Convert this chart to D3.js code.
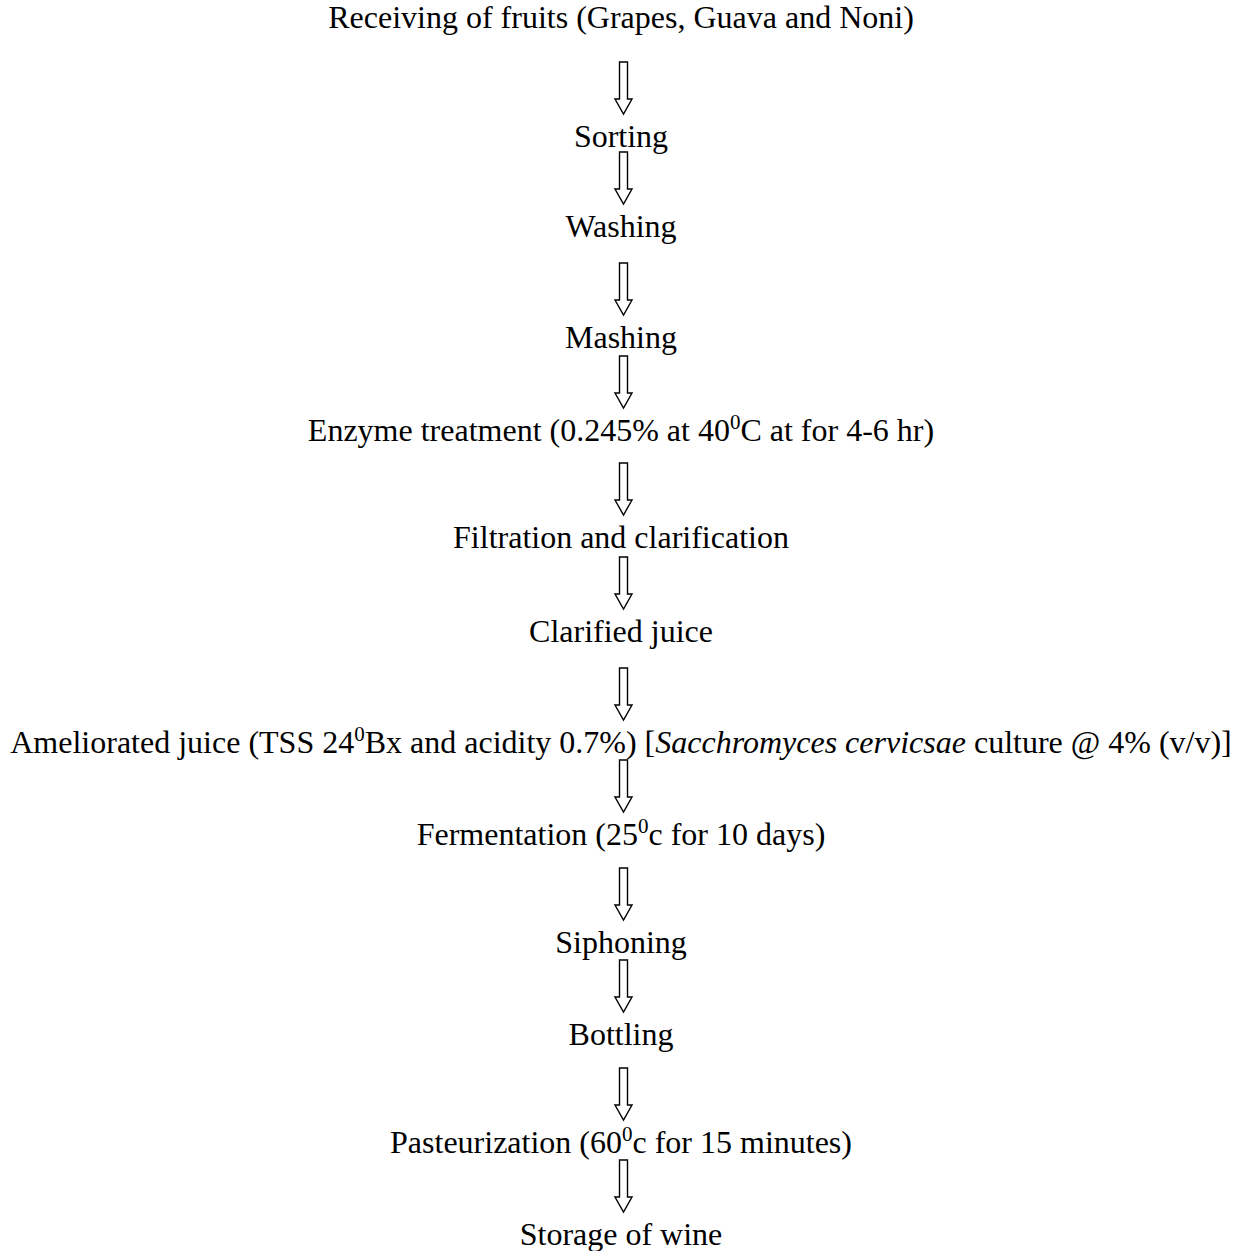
<!DOCTYPE html>
<html>
<head>
<meta charset="utf-8">
<script src="https://cdn.jsdelivr.net/npm/d3@7"></script>
<style>
  html, body { margin: 0; padding: 0; background: #fff; }
  svg { display: block; }
</style>
</head>
<body>
<svg id="chart"></svg>
<script>
// process steps, ^x = superscript x, *text* = italic
var stepLabels = [
    'Receiving of fruits (Grapes, Guava and Noni)',
    'Sorting',
    'Washing',
    'Mashing',
    'Enzyme treatment (0.245% at 40^0C at for 4-6 hr)',
    'Filtration and clarification',
    'Clarified juice',
    'Ameliorated juice (TSS 24^0Bx and acidity 0.7%) [*Sacchromyces cervicsae* culture @ 4% (v/v)]',
    'Fermentation (25^0c for 10 days)',
    'Siphoning',
    'Bottling',
    'Pasteurization (60^0c for 15 minutes)',
    'Storage of wine'
];

// each step flows into the next one
var stepLinks = d3.range(stepLabels.length - 1).map(function(i) {
    return { source: i, target: i + 1 };
});

var WIDTH = 1239, HEIGHT = 1251;
var FONT_SIZE = 32;
var CENTER_X = 621;
var ARROW_X = 623.5;
var ARROW_LEN = 52;
var ARROW_GAP = 33;   // tip sits this far above the next baseline

// baselines follow the uneven blank lines of the original document
var rowY = d3.scaleLinear()
    .domain(d3.range(stepLabels.length))
    .range([28, 147, 237, 348, 441, 548, 642, 753, 845, 953, 1045, 1153, 1245]);

var svg = d3.select('#chart')
    .attr('width', WIDTH)
    .attr('height', HEIGHT)
    .attr('viewBox', '0 0 ' + WIDTH + ' ' + HEIGHT);

function parseLabel(s) {
    // split into plain / italic / superscript pieces
    var parts = [];
    var re = /\*([^*]+)\*|\^(\S)/g, last = 0, m;
    while ((m = re.exec(s)) !== null) {
        if (m.index > last) parts.push({ text: s.slice(last, m.index), kind: 'plain' });
        if (m[1]) parts.push({ text: m[1], kind: 'italic' });
        else parts.push({ text: m[2], kind: 'sup' });
        last = re.lastIndex;
    }
    if (last < s.length) parts.push({ text: s.slice(last), kind: 'plain' });
    return parts;
}

var labels = svg.append('g')
    .selectAll('text')
    .data(stepLabels)
    .enter()
    .append('text')
    .attr('x', CENTER_X)
    .attr('y', function(d, i) { return rowY(i); })
    .attr('text-anchor', 'middle')
    .style('font-family', '"Liberation Serif", "Times New Roman", serif')
    .style('font-size', FONT_SIZE + 'px')
    .style('fill', '#000');

var SUP_SIZE = 21, SUP_RISE = 12;

labels.each(function(d) {
    var el = d3.select(this);
    var raised = false;
    parseLabel(d).forEach(function(p) {
        var t = el.append('tspan').text(p.text);
        if (p.kind === 'sup') {
            t.attr('dy', -SUP_RISE).style('font-size', SUP_SIZE + 'px');
            raised = true;
        } else {
            if (raised) { t.attr('dy', SUP_RISE); raised = false; }
            if (p.kind === 'italic') t.style('font-style', 'italic');
        }
    });
});

// hollow block arrow pointing down, tip at (0,0)
function arrowPath(len) {
    var sw = 4, hw = 8.5, hh = 15;
    return 'M ' + (-sw) + ' ' + (-len) +
        ' L ' + sw + ' ' + (-len) +
        ' L ' + sw + ' ' + (-hh) +
        ' L ' + hw + ' ' + (-hh) +
        ' L 0 0' +
        ' L ' + (-hw) + ' ' + (-hh) +
        ' L ' + (-sw) + ' ' + (-hh) + ' Z';
}

svg.append('g')
    .selectAll('path')
    .data(stepLinks)
    .enter()
    .append('path')
    .attr('d', arrowPath(ARROW_LEN))
    .attr('transform', function(d) {
        return 'translate(' + ARROW_X + ',' + (rowY(d.target) - ARROW_GAP) + ')';
    })
    .attr('fill', '#fff')
    .attr('stroke', '#000')
    .attr('stroke-width', 1.4)
    .attr('stroke-linejoin', 'miter');
</script>
</body>
</html>
